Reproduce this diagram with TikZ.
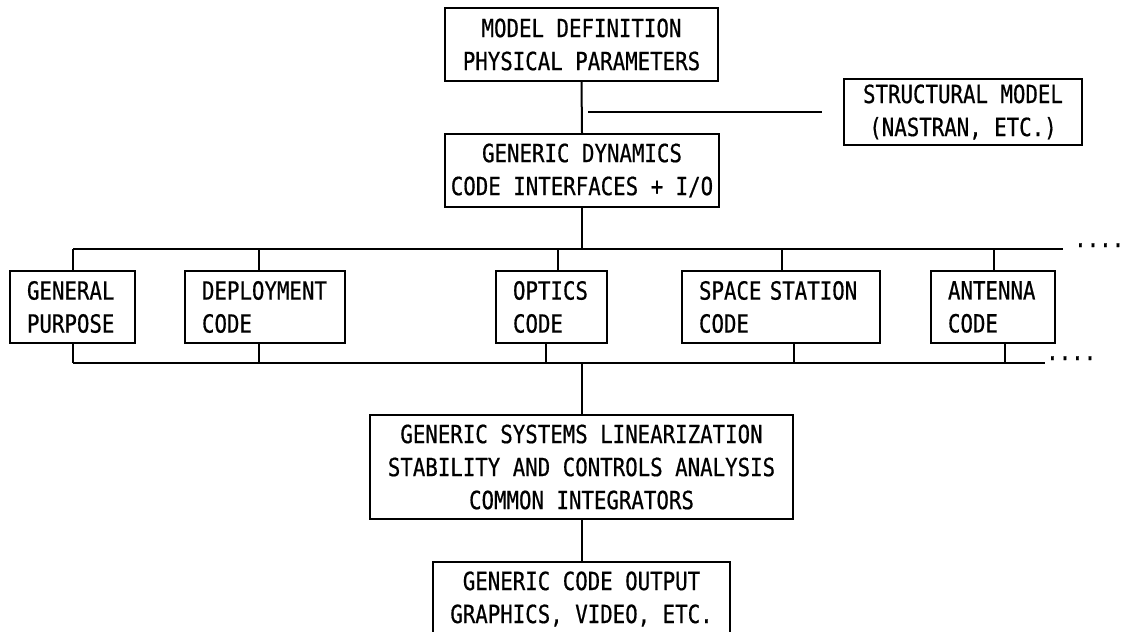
\documentclass[tikz,border=0pt]{standalone}
\usepackage{fontspec}
\newfontfamily\plotfont[FakeStretch=0.83,FakeBold=0.6]{DejaVu Sans Mono}
\begin{document}
\begin{tikzpicture}[x=1pt,y=-1pt,
  every node/.style={font=\plotfont\fontsize{25}{33}\selectfont},
  line/.style={line width=2pt},
  cbox/.style={draw, line width=2pt, align=center, inner sep=0pt},
  rbox/.style={draw, line width=2pt, align=left, inner xsep=17pt, inner ysep=0pt, minimum height=72pt}
]
\useasboundingbox (0,0) rectangle (1125,632);
\clip (0,0) rectangle (1125,632);

% top chain
\node[cbox, minimum width=273pt, minimum height=73pt] (model) at (581.5,44.5) {MODEL DEFINITION\\PHYSICAL PARAMETERS};
\node[cbox, minimum width=238pt, minimum height=66pt] (struct) at (963,112) {STRUCTURAL MODEL\\(NASTRAN, ETC.)};
\node[cbox, minimum width=274pt, minimum height=73pt] (gdc) at (582,170.5) {GENERIC DYNAMICS\\CODE INTERFACES + I/O};

% row of codes
\node[rbox, text width=91pt] (gp) at (72.5,307) {GENERAL\\PURPOSE};
\node[rbox, text width=126pt] (dep) at (265,307) {DEPLOYMENT\\CODE};
\node[rbox, text width=77pt] (opt) at (551.5,307) {OPTICS\\CODE};
\node[rbox, text width=164pt] (ss) at (781,307) {SPACE STATION\\CODE};
\node[rbox, text width=90pt] (ant) at (993,307) {ANTENNA\\CODE};

% lower chain
\node[cbox, minimum width=423pt, minimum height=104pt] (gsl) at (581.5,467) {GENERIC SYSTEMS LINEARIZATION\\STABILITY AND CONTROLS ANALYSIS\\COMMON INTEGRATORS};
\node[cbox, minimum width=297pt, minimum height=74pt] (out) at (581.5,599) {GENERIC CODE OUTPUT\\GRAPHICS, VIDEO, ETC.};

% bus coordinates
\coordinate (tbL) at (73,249);
\coordinate (tbR) at (1063,249);
\coordinate (lbL) at (73,363);
\coordinate (lbR) at (1045,363);
\coordinate (sideA) at (588,112);
\coordinate (sideB) at (822,112);

% connectors
\draw[line] (model.south) -- (gdc.north);
\draw[line] (sideA) -- (sideB);
\draw[line] (gdc.south) -- (gdc.south |- tbL);
\draw[line] (tbL) -- (tbR);
\draw[line] (gp.north) -- (gp.north |- tbL);
\draw[line] ([xshift=-6pt]dep.north) -- ([xshift=-6pt]dep.north |- tbL);
\draw[line] ([xshift=6.5pt]opt.north) -- ([xshift=6.5pt]opt.north |- tbL);
\draw[line] ([xshift=1pt]ss.north) -- ([xshift=1pt]ss.north |- tbL);
\draw[line] ([xshift=1pt]ant.north) -- ([xshift=1pt]ant.north |- tbL);

\draw[line] (lbL) -- (lbR);
\draw[line] (gp.south) -- (gp.south |- lbL);
\draw[line] ([xshift=-6pt]dep.south) -- ([xshift=-6pt]dep.south |- lbL);
\draw[line] ([xshift=-5.5pt]opt.south) -- ([xshift=-5.5pt]opt.south |- lbL);
\draw[line] ([xshift=13pt]ss.south) -- ([xshift=13pt]ss.south |- lbL);
\draw[line] ([xshift=12pt]ant.south) -- ([xshift=12pt]ant.south |- lbL);
\draw[line] (gsl.north |- lbL) -- (gsl.north);
\draw[line] (gsl.south) -- (out.north);

% continuation dots
\node[anchor=base west, inner sep=0pt] (dotsT) at (1074,247) {....};
\node[anchor=base west, inner sep=0pt] (dotsB) at (1046,360) {....};
\end{tikzpicture}
\end{document}
